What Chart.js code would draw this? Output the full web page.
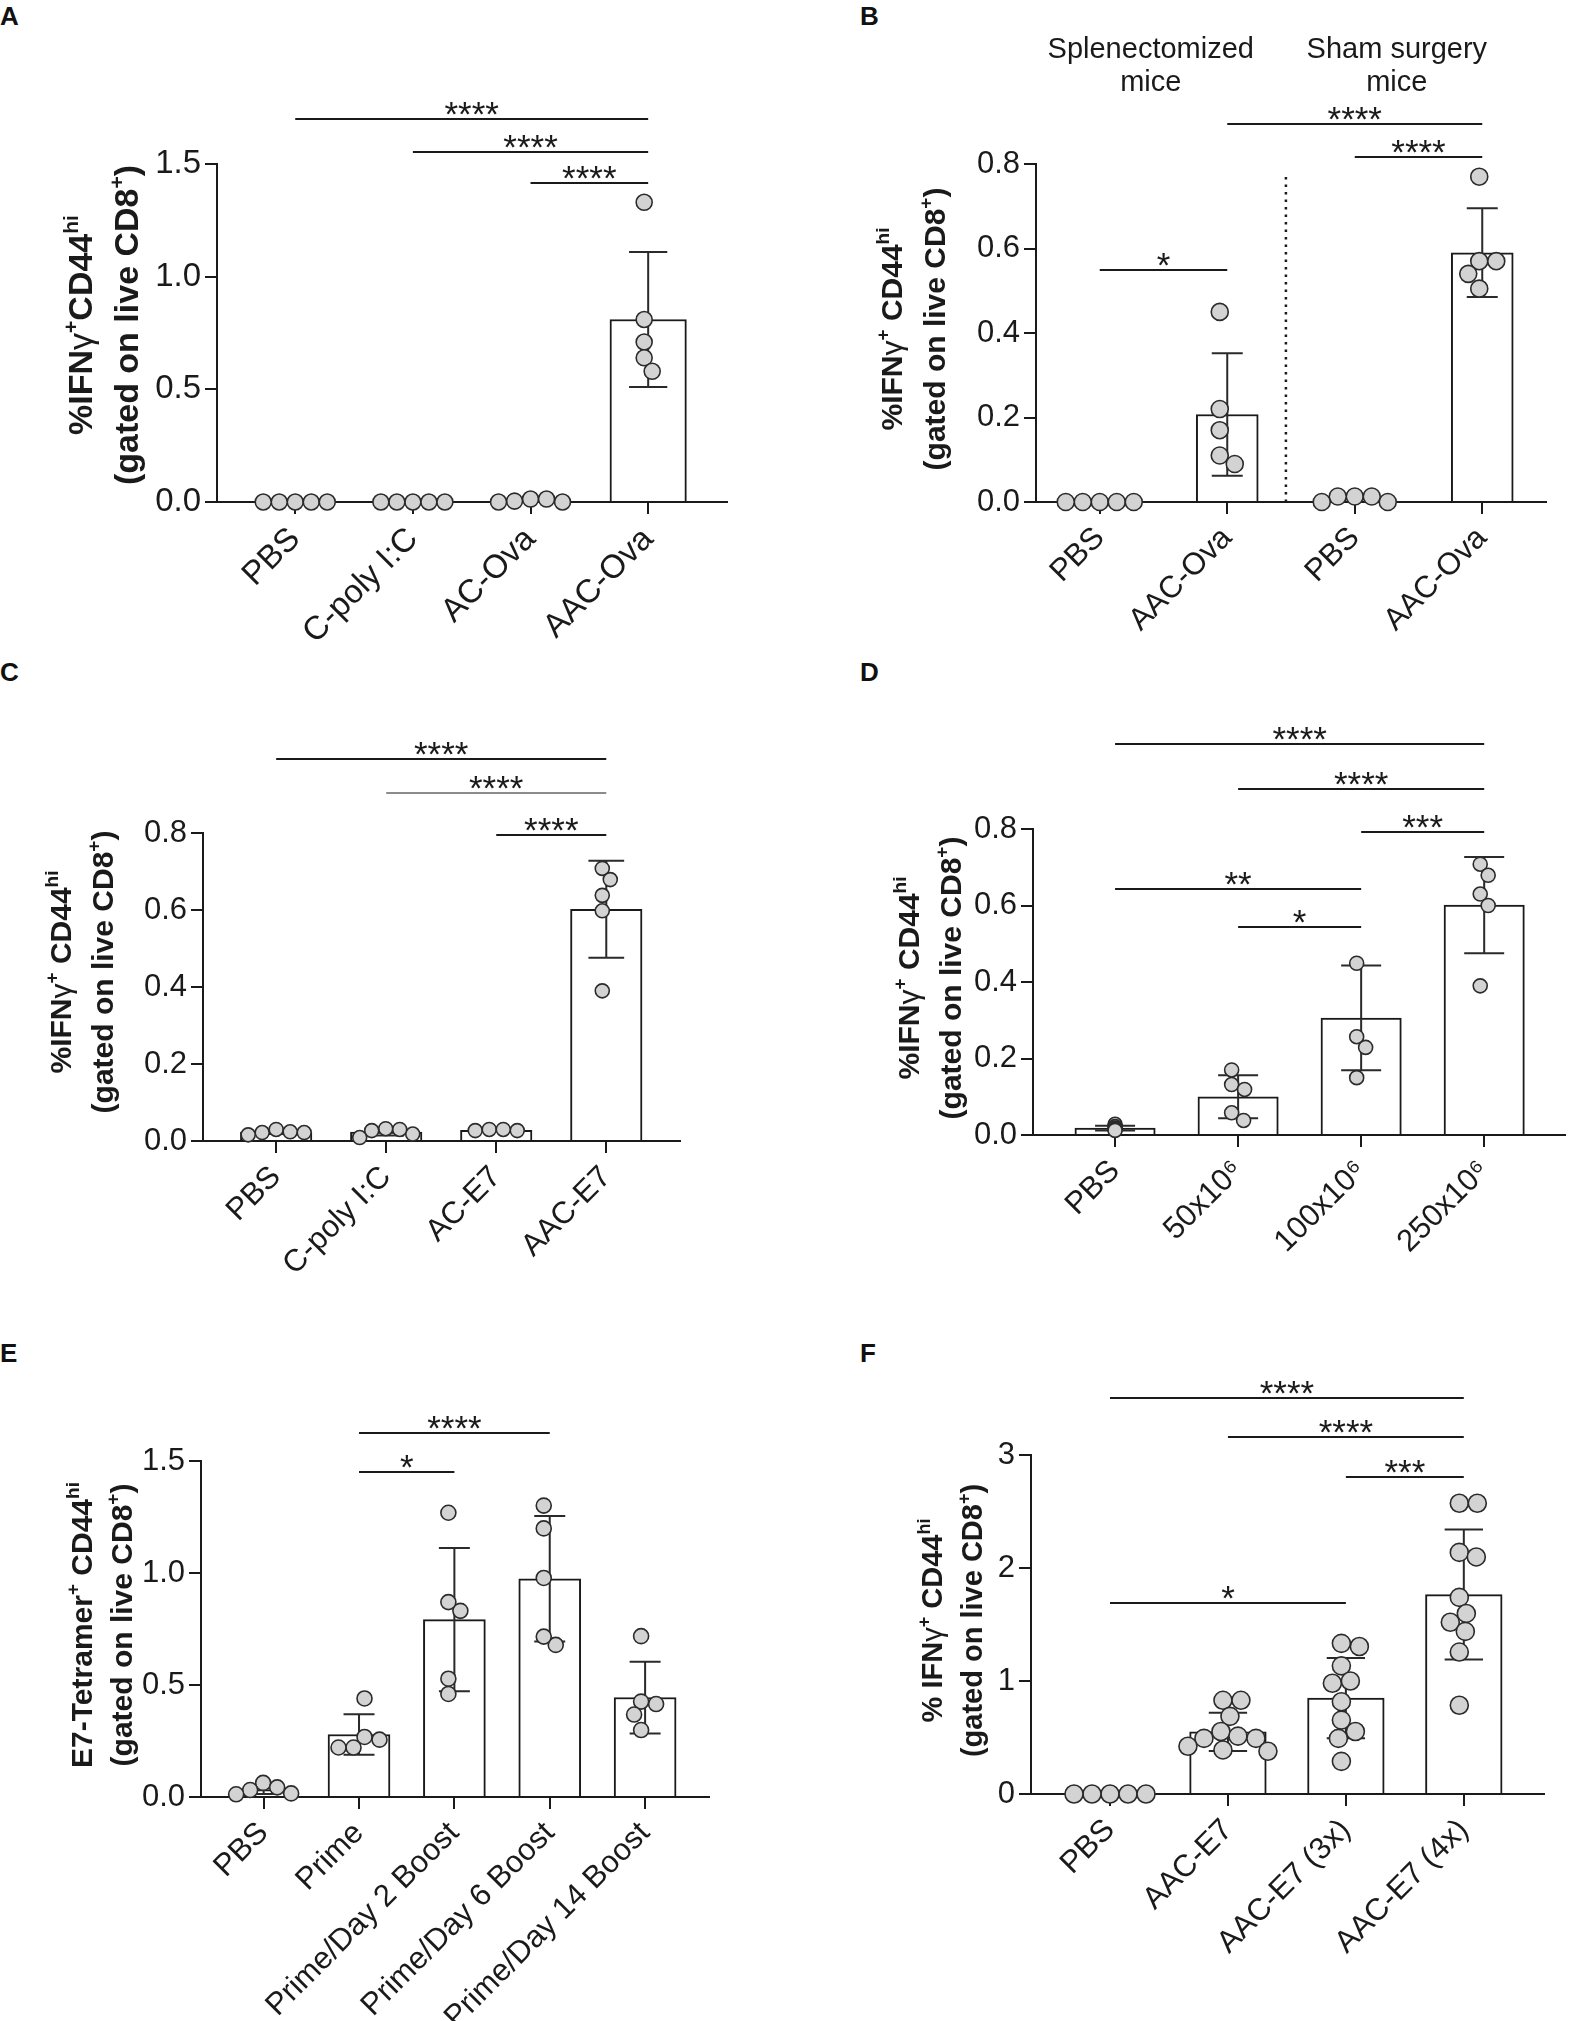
<!DOCTYPE html>
<html>
<head>
<meta charset="utf-8">
<script src="https://cdn.jsdelivr.net/npm/chart.js@4.4.1/dist/chart.umd.min.js"></script>
<style>
  body { margin: 0; background: #fff; width: 1574px; height: 2021px; position: relative; overflow: hidden; }
  canvas { position: absolute; }
  .lbl { position: absolute; font: bold 26px 'Liberation Sans', Arial, sans-serif; line-height: 26px; color: #111; }
</style>
</head>
<body>
<div class="lbl" style="left:0;top:3px">A</div>
<div class="lbl" style="left:860px;top:3px">B</div>
<div class="lbl" style="left:0;top:659px">C</div>
<div class="lbl" style="left:860px;top:659px">D</div>
<div class="lbl" style="left:0;top:1340px">E</div>
<div class="lbl" style="left:860px;top:1340px">F</div>
<canvas id="cA"></canvas>
<canvas id="cB"></canvas>
<canvas id="cC"></canvas>
<canvas id="cD"></canvas>
<canvas id="cE"></canvas>
<canvas id="cF"></canvas>
<script>
// ---- data ----
// A
const aCats = ['PBS', 'C-poly I:C', 'AC-Ova', 'AAC-Ova'];
const aTicks = [0, 0.5, 1.0, 1.5];
const aPoints = [[0, 0, 0, 0, 0], [0, 0, 0, 0, 0], [0, 0.013, 0.004, 0.013, 0], [1.33, 0.81, 0.71, 0.64, 0.58]];
const aMeans = [0, 0, 0.006, 0.81];
const aSDs = [0, 0, 0.006, 0.30];
const aSig = [[0, 3, 1.70, '****'], [1, 3, 1.555, '****'], [2, 3, 1.417, '****']];

// B
const bCats = ['PBS', 'AAC-Ova', 'PBS', 'AAC-Ova'];
const bTicks = [0, 0.2, 0.4, 0.6, 0.8];
const bPoints = [[0, 0, 0, 0, 0], [0.45, 0.22, 0.17, 0.11, 0.09], [0, 0.013, 0.013, 0.013, 0], [0.77, 0.57, 0.57, 0.54, 0.505]];
const bMeans = [0, 0.207, 0.008, 0.59];
const bSDs = [0, 0.145, 0, 0.105];
const bSig = [[0, 1, 0.549, '*'], [1, 3, 0.895, '****'], [2, 3, 0.817, '****']];
const bGroups = ['Splenectomized', 'mice', 'Sham surgery', 'mice'];

// C
const cCats = ['PBS', 'C-poly I:C', 'AC-E7', 'AAC-E7'];
const cTicks = [0, 0.2, 0.4, 0.6, 0.8];
const cPoints = [[0.022, 0.03, 0.022, 0.024, 0.016], [0.018, 0.032, 0.027, 0.03, 0.009], [0.027, 0.03, 0.027, 0.03], [0.708, 0.679, 0.638, 0.598, 0.39]];
const cMeans = [0.023, 0.023, 0.028, 0.602];
const cSDs = [0.005, 0.009, 0.002, 0.126];
const cSig = [[0, 3, 0.992, '****'], [1, 3, 0.903, '****'], [2, 3, 0.796, '****']];

// D
const dCats = ['PBS', '50x10\u2076', '100x10\u2076', '250x10\u2076'];
const dTicks = [0, 0.2, 0.4, 0.6, 0.8];
const dPoints = [[0.028, 0.022, 0.018, 0.015, 0.012], [0.17, 0.132, 0.119, 0.058, 0.038], [0.449, 0.257, 0.229, 0.15], [0.708, 0.679, 0.63, 0.6, 0.39]];
const dMeans = [0.018, 0.10, 0.306, 0.601];
const dSDs = [0.006, 0.056, 0.137, 0.126];
const dSig = [[0, 3, 1.022, '****'], [1, 3, 0.904, '****'], [2, 3, 0.792, '***'], [0, 2, 0.643, '**'], [1, 2, 0.543, '*']];

// E
const eCats = ['PBS', 'Prime', 'Prime/Day 2 Boost', 'Prime/Day 6 Boost', 'Prime/Day 14 Boost'];
const eTicks = [0, 0.5, 1.0, 1.5];
const ePoints = [[0.016, 0.063, 0.031, 0.043, 0.012], [0.44, 0.268, 0.221, 0.221, 0.256], [1.269, 0.831, 0.87, 0.528, 0.46], [1.301, 1.199, 0.978, 0.679, 0.716], [0.718, 0.415, 0.426, 0.368, 0.299]];
const eMeans = [0.033, 0.279, 0.792, 0.974, 0.444];
const eSDs = [0.02, 0.09, 0.32, 0.28, 0.16];
const eSig = [[1, 3, 1.627, '****'], [1, 2, 1.449, '*']];

// F
const fCats = ['PBS', 'AAC-E7', 'AAC-E7 (3x)', 'AAC-E7 (4x)'];
const fTicks = [0, 1, 2, 3];
const fPoints = [[0, 0, 0, 0, 0],
  [0.829, 0.829, 0.687, 0.553, 0.512, 0.492, 0.492, 0.423, 0.39, 0.378],
  [1.305, 1.333, 1.134, 0.98, 1.0, 0.817, 0.553, 0.654, 0.492, 0.289],
  [2.573, 2.573, 2.138, 2.098, 1.74, 1.598, 1.52, 1.439, 1.256, 0.785]];
const fMeans = [0, 0.55, 0.848, 1.765];
const fSDs = [0, 0.17, 0.355, 0.575];
const fSig = [[0, 3, 3.508, '****'], [1, 3, 3.163, '****'], [2, 3, 2.809, '***'], [0, 2, 1.691, '*']];

// ---- titles (text segments: b = bold, s = superscript, g = greek) ----
const gated = [['(gated on live CD8', 'b'], ['+', 's'], [')', 'b']];
const ifnA = [['%IFN', 'b'], ['\u03b3', 'g'], ['+', 's'], ['CD44', 'b'], ['hi', 's']];
const ifnB = [['%IFN', 'b'], ['\u03b3', 'g'], ['+', 's'], [' CD44', 'b'], ['hi', 's']];
const tetE = [['E7-Tetramer', 'b'], ['+', 's'], [' CD44', 'b'], ['hi', 's']];
const ifnF = [['% IFN', 'b'], ['\u03b3', 'g'], ['+', 's'], [' CD44', 'b'], ['hi', 's']];

const FAM = "'Liberation Sans', Arial, sans-serif";
const INK = '#1a1a1a';
Chart.defaults.font.family = FAM;
Chart.defaults.color = INK;

const panels = [
  { id: 'cA', cats: aCats, ticks: aTicks, points: aPoints, means: aMeans, sds: aSDs, sig: aSig,
    box: [0, 0, 787, 650], area: [217, 164, 727, 502], xr: [-0.665, 3.67], dec: 1, fs: 33, ts: 34,
    dotR: 8, barFrac: 0.65, title: [ifnA, gated], titleOff: [137, 91], titleDy: -8 },
  { id: 'cB', cats: bCats, ticks: bTicks, points: bPoints, means: bMeans, sds: bSDs, sig: bSig,
    box: [787, 0, 787, 650], area: [1036, 164, 1546, 502], xr: [-0.5, 3.5], dec: 1, fs: 31, ts: 30,
    dotR: 8.5, barFrac: 0.486, title: [ifnB, gated], titleOff: [145, 102], titleDy: -4,
    sep: [1.46, 0.77], heads: [[0.4, 0], [2.33, 2]] },
  { id: 'cC', cats: cCats, ticks: cTicks, points: cPoints, means: cMeans, sds: cSDs, sig: cSig,
    box: [0, 650, 787, 650], area: [203, 833, 680, 1141], xr: [-0.665, 3.67], dec: 1, fs: 31, ts: 30,
    dotR: 7, barFrac: 0.65, title: [ifnB, gated], titleOff: [143, 101], titleDy: -15,
    sigColor: [null, '#8c8c8c', null] },
  { id: 'cD', cats: dCats, ticks: dTicks, points: dPoints, means: dMeans, sds: dSDs, sig: dSig,
    box: [787, 650, 787, 650], area: [1033, 829, 1568, 1135], xr: [-0.667, 3.66], dec: 1, fs: 31, ts: 30,
    dotR: 7, barFrac: 0.65, title: [ifnB, gated], titleOff: [125, 83], titleDy: -4, stacked: [0] },
  { id: 'cE', cats: eCats, ticks: eTicks, points: ePoints, means: eMeans, sds: eSDs, sig: eSig,
    box: [0, 1300, 787, 721], area: [201, 1461, 709, 1797], xr: [-0.657, 4.67], dec: 1, fs: 31, ts: 30,
    dotR: 7.5, barFrac: 0.65, title: [tetE, gated], titleOff: [120, 80], titleDy: -4 },
  { id: 'cF', cats: fCats, ticks: fTicks, points: fPoints, means: fMeans, sds: fSDs, sig: fSig,
    box: [787, 1300, 787, 721], area: [1031, 1455, 1544, 1794], xr: [-0.67, 3.68], dec: 0, fs: 31, ts: 29,
    dotR: 9, barFrac: 0.65, title: [ifnF, gated], titleOff: [99, 59], titleDy: -4 }
];

// spread points of nearly equal height sideways (pixel offsets), like a dot plot
function swarm(vals, pxY, d) {
  const order = vals.map((v, k) => k).sort((a, b) => vals[b] - vals[a]);
  const placed = [];
  const offs = vals.map(() => 0);
  order.forEach(k => {
    const y = vals[k] * pxY;
    for (let s = 0; s < 400; s++) {
      const c = (s % 2 ? 1 : -1) * Math.ceil(s / 2);
      if (placed.every(q => Math.hypot(q.x - c, q.y - y) >= d)) {
        offs[k] = c; placed.push({ x: c, y: y }); break;
      }
    }
  });
  const lo = Math.min(...offs), hi = Math.max(...offs);
  return offs.map(o => o - (lo + hi) / 2);
}

function drawRich(ctx, segs, x, y, size) {
  const fontOf = k => (k === 'g' ? '' : 'bold ') + Math.round(k === 's' ? size * 0.62 : size) + 'px ' + FAM;
  ctx.save();
  ctx.translate(x, y);
  ctx.rotate(-Math.PI / 2);
  ctx.fillStyle = INK;
  ctx.textAlign = 'left';
  ctx.textBaseline = 'alphabetic';
  let w = 0;
  segs.forEach(([t, k]) => { ctx.font = fontOf(k); w += ctx.measureText(t).width; });
  let cx = -w / 2;
  const base = size * 0.36;
  segs.forEach(([t, k]) => {
    ctx.font = fontOf(k);
    ctx.fillText(t, cx, base - (k === 's' ? size * 0.42 : 0));
    cx += ctx.measureText(t).width;
  });
  ctx.restore();
}

function extras(p) {
  return {
    id: 'extras',
    afterDatasetDraw(chart, args) {
      if (args.index !== 0) return;
      const xs = chart.scales.x, ys = chart.scales.y, ctx = chart.ctx;
      const hw = p.barFrac * (xs.getPixelForValue(1) - xs.getPixelForValue(0)) * 0.25;
      ctx.save();
      ctx.strokeStyle = '#2a2a2a';
      ctx.lineWidth = 2;
      p.means.forEach((m, i) => {
        const s = p.sds[i];
        if (!s) return;
        const x = xs.getPixelForValue(i);
        const y1 = ys.getPixelForValue(m + s), y0 = ys.getPixelForValue(Math.max(0, m - s));
        ctx.beginPath();
        ctx.moveTo(x, y0); ctx.lineTo(x, y1);
        ctx.moveTo(x - hw, y1); ctx.lineTo(x + hw, y1);
        ctx.moveTo(x - hw, y0); ctx.lineTo(x + hw, y0);
        ctx.stroke();
      });
      ctx.restore();
    },
    afterDraw(chart) {
      const xs = chart.scales.x, ys = chart.scales.y, ctx = chart.ctx, ca = chart.chartArea;
      ctx.save();
      // significance bars
      p.sig.forEach(([a, b, lvl, txt], i) => {
        const y = Math.round(ys.getPixelForValue(lvl));
        const x1 = xs.getPixelForValue(a), x2 = xs.getPixelForValue(b);
        ctx.strokeStyle = (p.sigColor && p.sigColor[i]) || INK;
        ctx.lineWidth = 2;
        ctx.beginPath(); ctx.moveTo(x1, y); ctx.lineTo(x2, y); ctx.stroke();
        ctx.fillStyle = INK;
        ctx.font = '35px ' + FAM;
        ctx.textAlign = 'center';
        ctx.textBaseline = 'alphabetic';
        ctx.fillText(txt, (x1 + x2) / 2, y + 7);
      });
      // dotted separator
      if (p.sep) {
        const x = xs.getPixelForValue(p.sep[0]);
        ctx.strokeStyle = INK; ctx.lineWidth = 2.5; ctx.setLineDash([2.5, 5]);
        ctx.beginPath(); ctx.moveTo(x, ys.getPixelForValue(0)); ctx.lineTo(x, ys.getPixelForValue(p.sep[1])); ctx.stroke();
        ctx.setLineDash([]);
      }
      // group headers
      if (p.heads) {
        ctx.fillStyle = INK; ctx.font = '29px ' + FAM; ctx.textAlign = 'center'; ctx.textBaseline = 'alphabetic';
        p.heads.forEach(([v, k]) => {
          const x = xs.getPixelForValue(v);
          ctx.fillText(bGroups[k], x, ca.top - 106);
          ctx.fillText(bGroups[k + 1], x, ca.top - 73);
        });
      }
      ctx.restore();
      // y-axis title
      const midY = (ca.top + ca.bottom) / 2 + p.titleDy;
      drawRich(ctx, p.title[0], ca.left - p.titleOff[0], midY, p.ts);
      drawRich(ctx, p.title[1], ca.left - p.titleOff[1], midY, p.ts);
    }
  };
}

function makePanel(p) {
  const cv = document.getElementById(p.id);
  const [cx, cy, cw, ch] = p.box;
  const [L, T, R, B] = p.area;
  cv.width = cw; cv.height = ch;
  cv.style.left = cx + 'px'; cv.style.top = cy + 'px';
  cv.style.width = cw + 'px'; cv.style.height = ch + 'px';
  const yMax = p.ticks[p.ticks.length - 1];
  const pxX = (R - L) / (p.xr[1] - p.xr[0]);
  const pxY = (B - T) / yMax;
  const dots = [];
  p.points.forEach((vals, i) => {
    // groups drawn stacked (overlapping) in the original keep their centre position
    const offs = (p.stacked || []).includes(i) ? vals.map(() => 0) : swarm(vals, pxY, 2 * p.dotR * 0.97);
    offs.forEach((off, k) => dots.push({ x: i + off / pxX, y: vals[k] }));
  });
  const axisGrid = { offset: false, drawOnChartArea: false, drawTicks: true, tickLength: 12, color: INK, lineWidth: 2 };
  new Chart(cv, {
    type: 'bar',
    data: {
      datasets: [
        { type: 'bar', data: p.means.map((m, i) => ({ x: i, y: m })), backgroundColor: '#ffffff',
          borderColor: INK, borderWidth: 2, barThickness: p.barFrac * pxX, order: 2, clip: false },
        { type: 'scatter', data: dots, pointRadius: p.dotR, pointBackgroundColor: '#d3d3d3',
          pointBorderColor: '#2b2b2b', pointBorderWidth: 1.6, order: 1, clip: false }
      ]
    },
    options: {
      responsive: false,
      animation: false,
      devicePixelRatio: 1,
      layout: { padding: { left: 0, top: T - cy, right: cx + cw - R, bottom: 0 } },
      plugins: { legend: { display: false }, tooltip: { enabled: false } },
      scales: {
        x: {
          type: 'linear', offset: false, min: p.xr[0], max: p.xr[1],
          afterBuildTicks: ax => { ax.ticks = p.cats.map((c, i) => ({ value: i })); },
          afterFit: ax => { ax.height = cy + ch - B; },
          ticks: { callback: v => p.cats[v], autoSkip: false, minRotation: 45, maxRotation: 45,
                   padding: 6, font: { size: p.fs }, color: INK },
          grid: axisGrid,
          border: { color: INK, width: 2 }
        },
        y: {
          min: 0, max: yMax,
          afterBuildTicks: ax => { ax.ticks = p.ticks.map(v => ({ value: v })); },
          afterFit: ax => { ax.width = L - cx; },
          ticks: { callback: v => v.toFixed(p.dec), padding: 4, font: { size: p.fs }, color: INK },
          grid: axisGrid,
          border: { color: INK, width: 2 }
        }
      }
    },
    plugins: [extras(p)]
  });
}

panels.forEach(makePanel);
</script>
</body>
</html>
